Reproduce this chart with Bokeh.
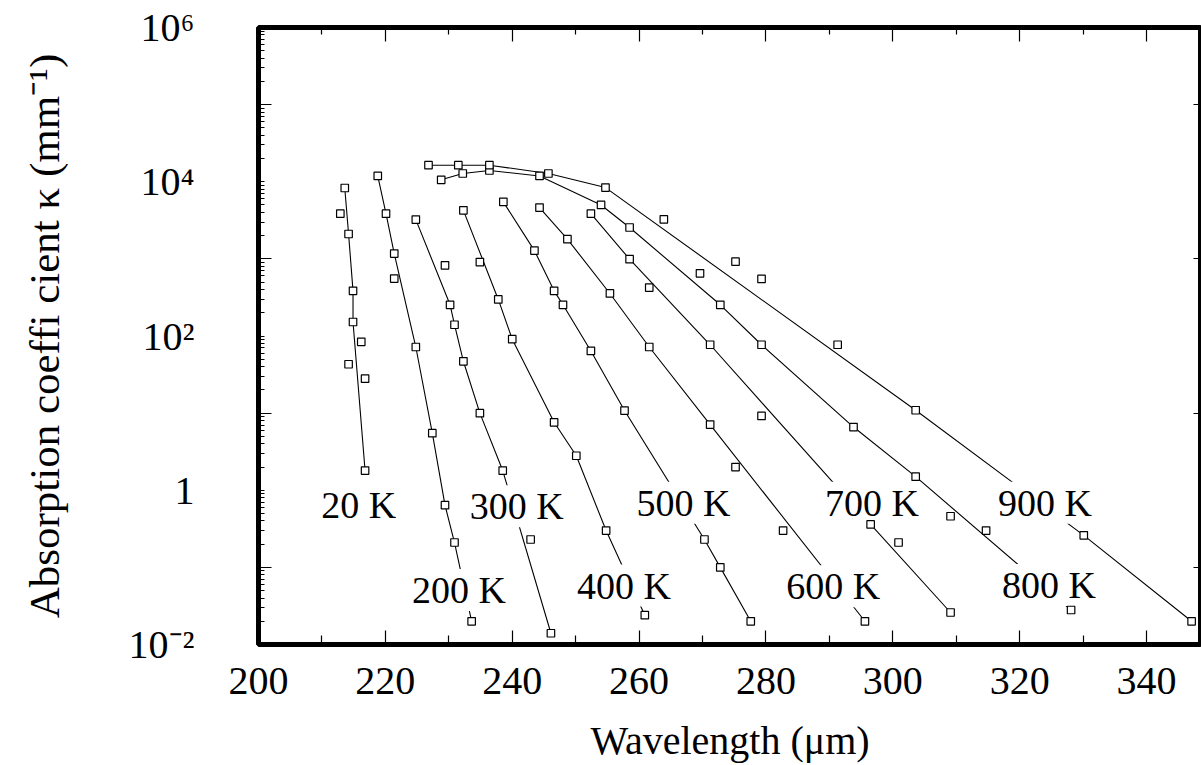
from bokeh.plotting import figure
from bokeh.models import Range1d, LogAxis, LinearAxis, FixedTicker, CustomJSTickFormatter, Label
from bokeh.embed import file_html
from bokeh.resources import INLINE

# ---------------- data (wavelength in um, absorption coefficient in 1/mm) ----------------
T20_CURVE_WL = [213.6, 214.2, 214.9, 214.9, 216.8]
T20_CURVE_K = [8300, 2100, 385, 152, 1.8]
T20_EXTRA_WL = [212.9, 216.2, 214.2, 216.8]
T20_EXTRA_K = [3860, 84, 43, 28]

T200_CURVE_WL = [218.8, 220.1, 221.4, 224.8, 227.4, 229.4, 230.9, 233.6]
T200_CURVE_K = [11900, 3860, 1170, 72, 5.5, 0.64, 0.21, 0.020]
T200_EXTRA_WL = [221.4]
T200_EXTRA_K = [556]

T300_CURVE_WL = [224.8, 230.2, 230.9, 232.3, 234.9, 238.5, 246.1]
T300_CURVE_K = [3230, 254, 140, 47, 10, 1.8, 0.014]
T300_EXTRA_WL = [229.4, 242.9]
T300_EXTRA_K = [825, 0.23]

T400_CURVE_WL = [232.3, 237.8, 240.0, 246.6, 250.1, 254.8, 260.9]
T400_CURVE_K = [4260, 298, 91, 7.6, 2.8, 0.30, 0.024]
T400_EXTRA_WL = [234.9]
T400_EXTRA_K = [910]

T500_CURVE_WL = [238.6, 243.5, 246.6, 248.0, 252.4, 257.7, 270.3, 272.8, 277.6]
T500_CURVE_K = [5470, 1280, 385, 254, 64, 10.8, 0.23, 0.10, 0.020]
T500_EXTRA_WL = []
T500_EXTRA_K = []

T600_CURVE_WL = [244.3, 248.7, 255.4, 261.6, 271.2, 295.6]
T600_CURVE_K = [4620, 1800, 356, 72, 7.1, 0.020]
T600_EXTRA_WL = [275.2, 282.7]
T600_EXTRA_K = [2.0, 0.30]

T700_CURVE_WL = [252.4, 258.5, 271.2, 296.5, 309.1]
T700_CURVE_K = [3860, 990, 77, 0.36, 0.026]
T700_EXTRA_WL = [261.6, 279.3, 300.9]
T700_EXTRA_K = [425, 9.2, 0.21]

T800_CURVE_WL = [228.8, 232.2, 236.4, 244.3, 254.0, 258.5, 272.8, 279.3, 293.8, 303.6, 328.1]
T800_CURVE_K = [10600, 12800, 14000, 11900, 5000, 2550, 254, 77, 6.6, 1.5, 0.028]
T800_EXTRA_WL = [269.6, 309.1, 314.7]
T800_EXTRA_K = [650, 0.46, 0.30]

T900_CURVE_WL = [226.8, 231.5, 236.4, 245.7, 254.7, 303.6, 330.1, 347.1]
T900_CURVE_K = [16400, 16400, 16400, 12800, 8400, 10.9, 0.26, 0.020]
T900_EXTRA_WL = [263.9, 275.2, 279.3, 291.3]
T900_EXTRA_K = [3260, 920, 550, 77]

SERIES_NAMES = ["20 K", "200 K", "300 K", "400 K", "500 K", "600 K", "700 K", "800 K", "900 K"]

X_TICKS = [200, 220, 240, 260, 280, 300, 320, 340]
X_MINOR = [210, 230, 250, 270, 290, 310, 330, 350]
Y_LABEL_TICKS = [0.01, 1.0, 100.0, 10000.0, 1000000.0]
Y_TICK_LABELS = ["10\u207b\u00b2", "1", "10\u00b2", "10\u2074", "10\u2076"]
Y_MAJOR_MARKS = [0.1, 10.0, 1000.0, 100000.0]

X_TITLE = "Wavelength (\u03bcm)"
Y_TITLE = "Absorption coeffi cient \u03ba (mm\u207b\u00b9)"

# ---------------- figure ----------------
FONT = "Liberation Serif"
p = figure(width=1201, height=765, x_range=Range1d(200, 348.66), y_range=Range1d(1e-2, 1e6),
           y_axis_type="log", output_backend="svg", toolbar_location=None,
           min_border_left=258, min_border_right=0, min_border_top=27, min_border_bottom=118)
p.grid.visible = False
p.outline_line_color = "black"
p.outline_line_width = 5
p.background_fill_color = "white"
p.border_fill_color = "white"

blank = CustomJSTickFormatter(code="return ''")

# bottom axis: ticks + labels
xax = p.xaxis[0]
xax.ticker = FixedTicker(ticks=X_TICKS, minor_ticks=X_MINOR)
xax.axis_line_color = None
xax.major_tick_in = 14
xax.major_tick_out = 0
xax.minor_tick_in = 9
xax.minor_tick_out = 0
xax.major_tick_line_width = 1.2
xax.minor_tick_line_width = 1.2
xax.major_label_standoff = 23
xax.major_label_text_font = FONT
xax.major_label_text_font_size = "40px"
xax.major_label_text_color = "black"
xax.axis_label = X_TITLE
xax.axis_label_text_font = FONT
xax.axis_label_text_font_size = "40px"
xax.axis_label_text_font_style = "normal"
xax.axis_label_text_color = "black"
xax.axis_label_standoff = 21

# inner left axis: tick marks only
y_minor = [k * 10.0 ** n for n in range(-2, 6) for k in range(1, 10) if not (k == 1 and n % 2 == 1)]
yax = p.yaxis[0]
yax.ticker = FixedTicker(ticks=Y_MAJOR_MARKS, minor_ticks=y_minor)
yax.formatter = blank
yax.axis_line_color = None
yax.major_tick_in = 13
yax.major_tick_out = 0
yax.minor_tick_in = 6
yax.minor_tick_out = 0
yax.major_tick_line_width = 1.2
yax.minor_tick_line_width = 1.2
yax.major_label_standoff = 0
yax.major_label_text_font_size = "1px"

# outer left axis: labels + title
ylab = LogAxis(ticker=FixedTicker(ticks=Y_LABEL_TICKS, minor_ticks=[]),
               major_label_overrides=dict(zip(Y_LABEL_TICKS, Y_TICK_LABELS)))
ylab.axis_line_color = None
ylab.major_tick_line_color = None
ylab.major_tick_in = 0
ylab.major_tick_out = 0
ylab.minor_tick_in = 0
ylab.minor_tick_out = 0
ylab.major_label_standoff = 64
ylab.major_label_text_font = FONT
ylab.major_label_text_font_size = "40px"
ylab.major_label_text_color = "black"
ylab.axis_label = Y_TITLE
ylab.axis_label_text_font = FONT
ylab.axis_label_text_font_size = "43px"
ylab.axis_label_text_font_style = "normal"
ylab.axis_label_text_color = "black"
ylab.axis_label_standoff = 58
p.add_layout(ylab, "left")

# top axis: tick marks only
xtop = LinearAxis(ticker=FixedTicker(ticks=X_TICKS, minor_ticks=X_MINOR), formatter=blank)
xtop.axis_line_color = None
xtop.major_tick_in = 14
xtop.major_tick_out = 0
xtop.minor_tick_in = 7
xtop.minor_tick_out = 0
xtop.major_tick_line_width = 1.2
xtop.minor_tick_line_width = 1.2
xtop.major_label_standoff = 0
xtop.major_label_text_font_size = "1px"
p.add_layout(xtop, "above")

# right axis: tick marks only
yright = LogAxis(ticker=FixedTicker(ticks=Y_MAJOR_MARKS, minor_ticks=[]), formatter=blank)
yright.axis_line_color = None
yright.major_tick_in = 8
yright.major_tick_out = 0
yright.minor_tick_in = 0
yright.minor_tick_out = 0
yright.major_tick_line_width = 1.2
yright.major_label_standoff = 0
yright.major_label_text_font_size = "1px"
p.add_layout(yright, "right")

# ---------------- series ----------------
series = [
    (T20_CURVE_WL, T20_CURVE_K, T20_EXTRA_WL, T20_EXTRA_K),
    (T200_CURVE_WL, T200_CURVE_K, T200_EXTRA_WL, T200_EXTRA_K),
    (T300_CURVE_WL, T300_CURVE_K, T300_EXTRA_WL, T300_EXTRA_K),
    (T400_CURVE_WL, T400_CURVE_K, T400_EXTRA_WL, T400_EXTRA_K),
    (T500_CURVE_WL, T500_CURVE_K, T500_EXTRA_WL, T500_EXTRA_K),
    (T600_CURVE_WL, T600_CURVE_K, T600_EXTRA_WL, T600_EXTRA_K),
    (T700_CURVE_WL, T700_CURVE_K, T700_EXTRA_WL, T700_EXTRA_K),
    (T800_CURVE_WL, T800_CURVE_K, T800_EXTRA_WL, T800_EXTRA_K),
    (T900_CURVE_WL, T900_CURVE_K, T900_EXTRA_WL, T900_EXTRA_K),
]

for cwl, ck, ewl, ek in series:
    p.line(cwl, ck, line_color="black", line_width=1.1)
    for xs, ys in ((cwl, ck), (ewl, ek)):
        if xs:
            r = p.scatter(xs, ys, marker="square", size=7.5, fill_color="white",
                          line_color="black", line_width=1.2)
            r.level = "overlay"

# temperature labels (annotation anchor positions in data units)
LABEL_ANCHORS = [(215.8, 0.65), (231.6, 0.051), (240.7, 0.62), (257.6, 0.058), (267.0, 0.69),
                 (290.6, 0.057), (296.7, 0.69), (324.6, 0.059), (324.0, 0.69)]
for name, (lx, ly) in zip(SERIES_NAMES, LABEL_ANCHORS):
    p.add_layout(Label(x=lx, y=ly, text=name, text_align="center", text_baseline="middle",
                       text_font=FONT, text_font_size="38px", text_color="black",
                       background_fill_color="white", background_fill_alpha=1.0))

open("out.html", "w").write(file_html(p, INLINE))
